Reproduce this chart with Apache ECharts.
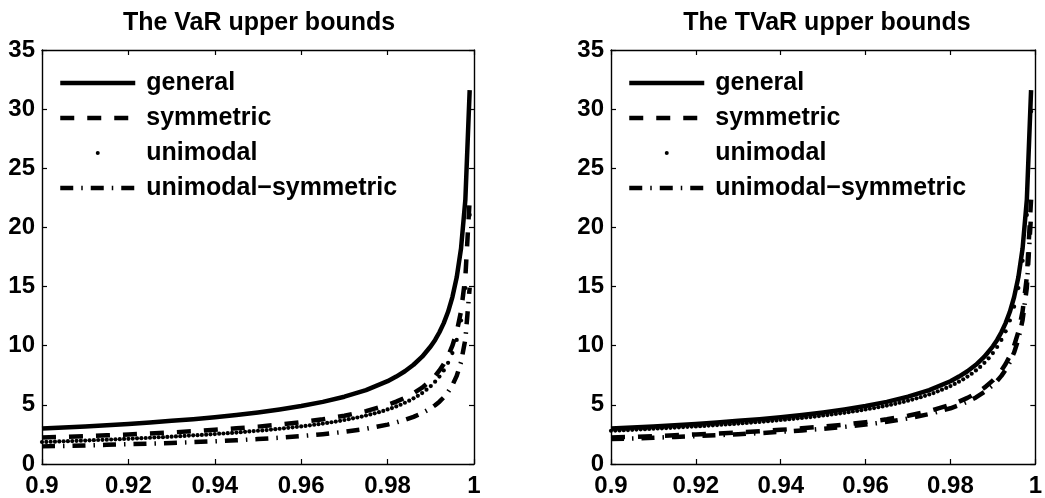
<!DOCTYPE html>
<html><head><meta charset="utf-8">
<script src="https://cdn.jsdelivr.net/npm/echarts@6/dist/echarts.min.js"></script>
<style>html,body{margin:0;padding:0;background:#fff}#c{width:1045px;height:498px}</style>
</head><body><div id="c"></div>
<script>
// x positions (probability level p)
const lineP = [0.900,0.905,0.910,0.915,0.920,0.925,0.930,0.935,0.940,0.945,0.950,0.955,0.960,0.965,0.970,0.975,0.980,0.982,0.984,0.986,0.988,0.990,0.991,0.992,0.993,0.994,0.995,0.996,0.997,0.998,0.999];
const dotP = [0.900,0.901,0.902,0.903,0.904,0.905,0.906,0.907,0.908,0.909,
0.910,0.911,0.912,0.913,0.914,0.915,0.916,0.917,0.918,0.919,
0.920,0.921,0.922,0.923,0.924,0.925,0.926,0.927,0.928,0.929,
0.930,0.931,0.932,0.933,0.934,0.935,0.936,0.937,0.938,0.939,
0.940,0.941,0.942,0.943,0.944,0.945,0.946,0.947,0.948,0.949,
0.950,0.951,0.952,0.953,0.954,0.955,0.956,0.957,0.958,0.959,
0.960,0.961,0.962,0.963,0.964,0.965,0.966,0.967,0.968,0.969,
0.970,0.971,0.972,0.973,0.974,0.975,0.976,0.977,0.978,0.979,
0.980,0.981,0.982,0.983,0.984,0.985,0.986,0.987,0.988,0.989,
0.990,0.991,0.992,0.993,0.994,0.995,0.996,0.997,0.998,0.999];

// VaR panel
const varGeneral = [3.00,3.09,3.18,3.28,3.39,3.51,3.65,3.79,3.96,4.15,4.36,4.61,4.90,5.25,5.69,6.24,7.00,7.39,7.84,8.39,9.07,9.95,10.49,11.14,11.91,12.87,14.11,15.78,18.23,22.34,31.61];
const varSymmetric = [2.24,2.29,2.36,2.43,2.50,2.58,2.67,2.77,2.89,3.02,3.16,3.33,3.54,3.78,4.08,4.47,5.00,5.27,5.59,5.98,6.45,7.07,7.45,7.91,8.45,9.13,10.00,11.18,12.91,15.81,22.36];
const varUnimodal = [1.86,1.87,1.88,1.89,1.91,1.92,1.93,1.94,1.96,1.97,
1.98,2.00,2.01,2.03,2.04,2.06,2.07,2.09,2.10,2.12,
2.13,2.15,2.17,2.18,2.20,2.22,2.24,2.26,2.27,2.29,
2.31,2.33,2.35,2.37,2.40,2.42,2.44,2.46,2.48,2.51,
2.53,2.56,2.58,2.61,2.63,2.66,2.69,2.72,2.75,2.78,
2.81,2.84,2.87,2.91,2.94,2.98,3.02,3.06,3.10,3.14,
3.18,3.22,3.27,3.32,3.37,3.42,3.47,3.53,3.59,3.65,
3.72,3.79,3.86,3.93,4.01,4.10,4.19,4.28,4.38,4.49,
4.61,4.73,4.87,5.01,5.18,5.35,5.55,5.76,6.00,6.28,
6.59,6.96,7.39,7.91,8.55,9.38,10.49,12.13,14.87,21.06];
const varUniSym = [1.49,1.53,1.57,1.62,1.67,1.72,1.78,1.85,1.92,2.01,2.11,2.22,2.36,2.52,2.72,2.98,3.33,3.51,3.73,3.98,4.30,4.71,4.97,5.27,5.63,6.09,6.67,7.45,8.61,10.54,14.91];

// TVaR panel
const tvarGeneral = [3.00,3.09,3.18,3.28,3.39,3.51,3.65,3.79,3.96,4.15,4.36,4.61,4.90,5.25,5.69,6.24,7.00,7.39,7.84,8.39,9.07,9.95,10.49,11.14,11.91,12.87,14.11,15.78,18.23,22.34,31.61];
const tvarSymmetric = [2.24,2.29,2.36,2.43,2.50,2.58,2.67,2.77,2.89,3.02,3.16,3.33,3.54,3.78,4.08,4.47,5.00,5.27,5.59,5.98,6.45,7.07,7.45,7.91,8.45,9.13,10.00,11.18,12.91,15.81,22.36];
const tvarUnimodal = [2.81,2.83,2.84,2.86,2.87,2.89,2.91,2.93,2.94,2.96,
2.98,3.00,3.02,3.04,3.06,3.08,3.10,3.12,3.14,3.16,
3.18,3.20,3.22,3.25,3.27,3.29,3.32,3.34,3.37,3.39,
3.42,3.45,3.47,3.50,3.53,3.56,3.59,3.62,3.65,3.68,
3.72,3.75,3.79,3.82,3.86,3.89,3.93,3.97,4.01,4.05,
4.10,4.14,4.19,4.23,4.28,4.33,4.38,4.44,4.49,4.55,
4.61,4.67,4.73,4.80,4.87,4.94,5.01,5.09,5.18,5.26,
5.35,5.45,5.55,5.65,5.76,5.88,6.00,6.14,6.28,6.43,
6.59,6.77,6.96,7.16,7.39,7.63,7.91,8.21,8.55,8.93,
9.38,9.89,10.49,11.22,12.13,13.30,14.87,17.18,21.06,29.80];
const tvarUniSym = [2.11,2.16,2.22,2.29,2.36,2.43,2.52,2.61,2.72,2.84,2.98,3.14,3.33,3.56,3.85,4.22,4.71,4.97,5.27,5.63,6.09,6.67,7.03,7.45,7.97,8.61,9.43,10.54,12.17,14.91,21.08];

const titles = ['The VaR upper bounds', 'The TVaR upper bounds'];
const names = ['general', 'symmetric', 'unimodal', 'unimodal\u2212symmetric'];
const xTicks = {min: 0.9, max: 1, interval: 0.02};
const yTicks = {min: 0, max: 35, interval: 5};

const FONT = "'Liberation Sans', Arial, Helvetica, sans-serif";
const FS = 24;
const grids = [
  {left: 42, right: 571, top: 50, bottom: 34},
  {left: 611, right: 4, top: 50, bottom: 34}
];
const axLine = {show: true, onZero: false, lineStyle: {color: '#000', width: 1.4}};
const tick = {show: true, inside: true, length: 5, lineStyle: {color: '#000', width: 1.2}};
const lbl = {color: '#000', fontWeight: 'bold', fontSize: FS, fontFamily: FONT};

const xAxis = [], yAxis = [];
grids.forEach((g, i) => {
  xAxis.push({type: 'value', gridIndex: i, position: 'bottom', ...xTicks, axisLine: axLine, axisTick: tick, splitLine: {show: false}, axisLabel: {...lbl, margin: 10}});
  xAxis.push({type: 'value', gridIndex: i, position: 'top', ...xTicks, axisLine: axLine, axisTick: tick, splitLine: {show: false}, axisLabel: {show: false}});
  yAxis.push({type: 'value', gridIndex: i, position: 'left', ...yTicks, axisLine: axLine, axisTick: tick, splitLine: {show: false}, axisLabel: {...lbl, margin: 7}});
  yAxis.push({type: 'value', gridIndex: i, position: 'right', ...yTicks, axisLine: axLine, axisTick: tick, splitLine: {show: false}, axisLabel: {show: false}});
});

const pair = (xs, ys) => xs.map((x, i) => [x, ys[i]]);
const dashTypes = ['solid', [14, 13], null, [13, 8, 1.5, 8]];
const LW = 4.5;
const panels = [
  [pair(lineP, varGeneral), pair(lineP, varSymmetric), pair(dotP, varUnimodal), pair(lineP, varUniSym)],
  [pair(lineP, tvarGeneral), pair(lineP, tvarSymmetric), pair(dotP, tvarUnimodal), pair(lineP, tvarUniSym)]
];
const series = [];
panels.forEach((sets, p) => {
  sets.forEach((d, j) => {
    const s = {
      name: names[j], type: 'line', data: d, xAxisIndex: p * 2, yAxisIndex: p * 2,
      animation: false, silent: true, z: 2 + j
    };
    if (j === 2) {
      s.symbol = 'circle'; s.symbolSize = 4.2; s.showSymbol = true;
      s.itemStyle = {color: '#000'};
      s.lineStyle = {width: 0, opacity: 0};
    } else {
      s.symbol = 'none';
      s.lineStyle = {color: '#000', width: LW, type: dashTypes[j], cap: 'butt', join: 'round'};
      s.itemStyle = {color: '#000'};
    }
    series.push(s);
  });
});

const legendData = names.map((n, j) => j === 2
  ? {name: n, lineStyle: {width: 0, opacity: 0}}
  : {name: n, itemStyle: {opacity: 0}, lineStyle: {width: LW, color: '#000', type: dashTypes[j], cap: 'butt'}});
const legends = grids.map((g, i) => ({
  orient: 'vertical', left: g.left + 16, top: 69, padding: 0,
  itemWidth: 75, itemHeight: 5, itemGap: 7,
  selectedMode: false,
  data: legendData,
  textStyle: {color: '#000', fontWeight: 'bold', fontSize: 25, fontFamily: FONT, lineHeight: 28, padding: [0, 0, 0, 6]}
}));

const chart = echarts.init(document.getElementById('c'), null, {renderer: 'canvas'});
chart.setOption({
  backgroundColor: '#fff',
  animation: false,
  title: titles.map((t, i) => ({
    text: t, left: i === 0 ? 259 : 827, top: 11, textAlign: 'center', padding: 0,
    textStyle: {color: '#000', fontWeight: 'bold', fontSize: 25, fontFamily: FONT}
  })),
  grid: grids,
  xAxis, yAxis, series,
  legend: legends
});
</script></body></html>
